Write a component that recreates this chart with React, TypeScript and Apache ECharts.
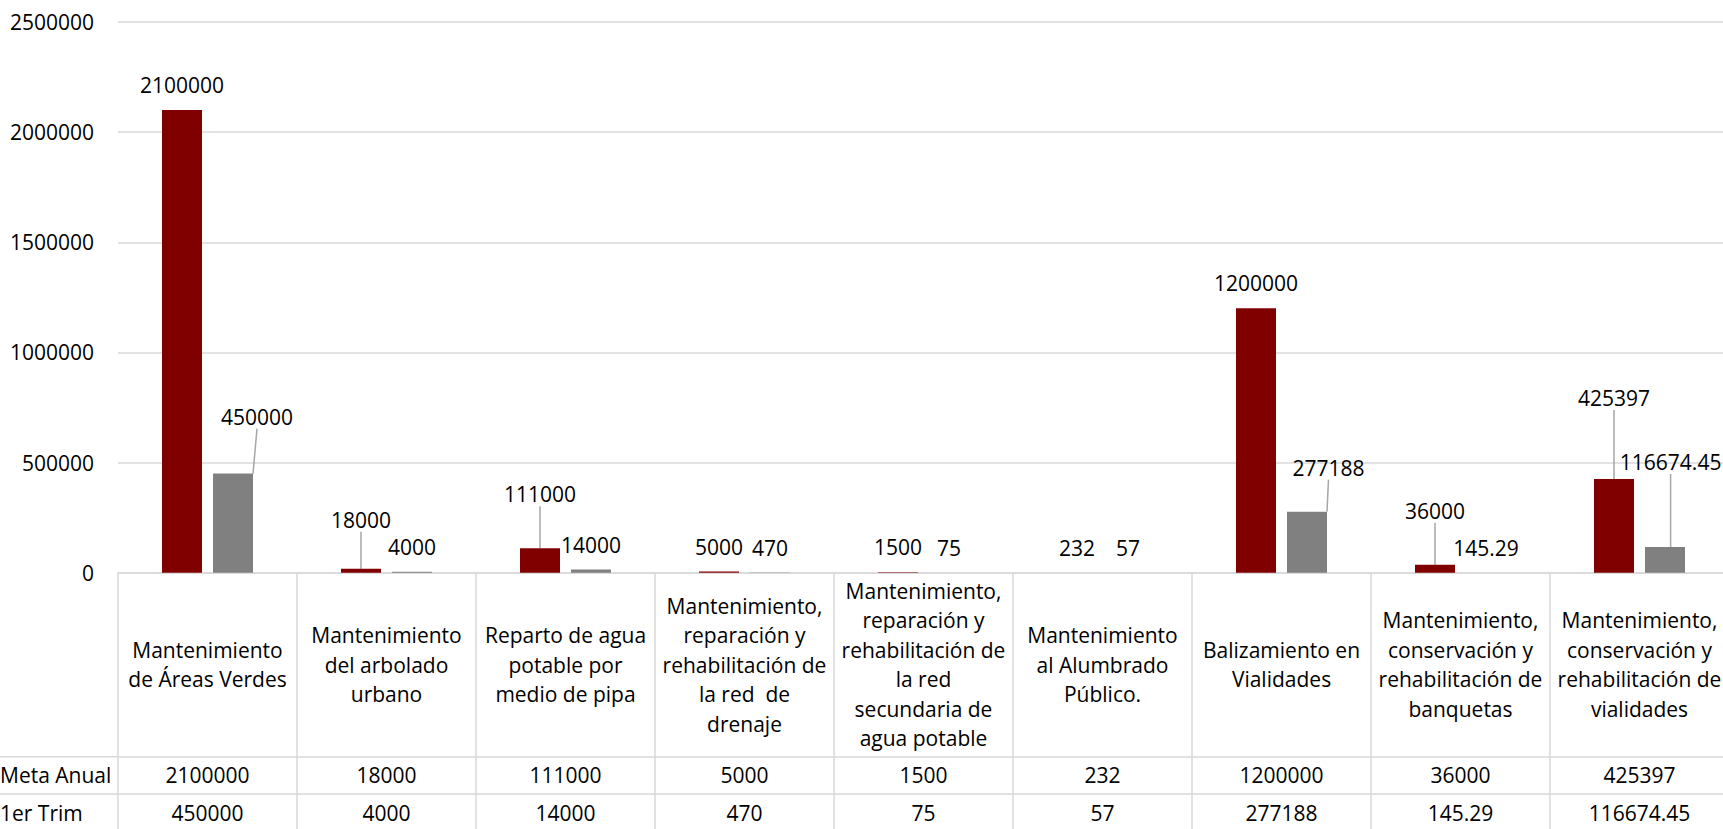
import React, { useEffect, useRef } from 'react';
import * as echarts from 'echarts';

// ---------- data ----------
const categories = [
  'Mantenimiento\nde Áreas Verdes',
  'Mantenimiento\ndel arbolado\nurbano',
  'Reparto de agua\npotable por\nmedio de pipa',
  'Mantenimiento,\nreparación y\nrehabilitación de\nla red  de\ndrenaje',
  'Mantenimiento,\nreparación y\nrehabilitación de\nla red\nsecundaria de\nagua potable',
  'Mantenimiento\nal Alumbrado\nPúblico.',
  'Balizamiento en\nVialidades',
  'Mantenimiento,\nconservación y\nrehabilitación de\nbanquetas',
  'Mantenimiento,\nconservación y\nrehabilitación de\nvialidades',
];
const seriesNames = ['Meta Anual', '1er Trim'];
const metaAnual = [2100000, 18000, 111000, 5000, 1500, 232, 1200000, 36000, 425397];
const primerTrim = [450000, 4000, 14000, 470, 75, 57, 277188, 145.29, 116674.45];
const yTicks = [0, 500000, 1000000, 1500000, 2000000, 2500000];

// ---------- layout / style ----------
const FONT = 'Open Sans';
const FONT_SIZE = 21;
const TEXT = '#000000';
const LINE = '#d9d9d9';
const COLORS = ['#800000', '#808080'];
const GRID_LEFT = 118;
const GRID_TOP = 22;
const PLOT_H = 550.7;
const HEADER_H = 184;
const ROW_H = 37.3;

// moved data labels (series-dataIndex -> [dx, dy])
const LABEL_SHIFTS: Record<string, [number, number]> = {
  '0-1': [0, -24],
  '0-2': [0, -29],
  '0-7': [0, -29],
  '0-8': [0, -56],
  '1-0': [24, -32],
  '1-6': [21.5, -19],
  '1-8': [5.6, -60],
};

export default function App() {
  const ref = useRef<HTMLDivElement>(null);
  useEffect(() => {
    if (!ref.current) return;
    const chart = echarts.init(ref.current, undefined, { renderer: 'svg' });
    const plotBottom = GRID_TOP + PLOT_H;
    const textStyle = { fontFamily: FONT, fontSize: FONT_SIZE, color: TEXT };

    const makeSeries = (name: string, values: number[], si: number) => ({
      type: 'bar',
      name,
      barWidth: 40,
      barGap: '27.5%',
      itemStyle: { color: COLORS[si] },
      data: values.map((v, i) => ({
        value: v,
        labelLine: { show: !!LABEL_SHIFTS[`${si}-${i}`] },
      })),
      label: {
        show: true,
        position: 'top',
        distance: 13,
        lineHeight: 24,
        ...textStyle,
        formatter: (p: any) => String(p.value),
      },
      labelLine: { show: false, lineStyle: { color: '#a6a6a6', width: 1.5 } },
      labelLayout: (params: any) => {
        const s = LABEL_SHIFTS[`${params.seriesIndex}-${params.dataIndex}`];
        return s ? { dx: s[0], dy: s[1] } : {};
      },
    });

    const rowAxis = (values: number[], name: string, offset: number) => ({
      type: 'category',
      data: categories,
      position: 'bottom',
      offset,
      axisLine: { show: true, lineStyle: { color: LINE, width: 1.5 } },
      axisTick: { show: false },
      axisLabel: {
        interval: 0,
        margin: ROW_H / 2,
        verticalAlign: 'middle',
        ...textStyle,
        formatter: (_: string, i: number) => String(values[i]),
      },
      name,
      nameLocation: 'start',
      nameGap: GRID_LEFT,
      nameMoveOverlap: false,
      nameTextStyle: {
        ...textStyle,
        align: 'left',
        verticalAlign: 'top',
        lineHeight: ROW_H,
      },
    });

    chart.setOption({
      animation: false,
      backgroundColor: '#ffffff',
      grid: {
        left: GRID_LEFT,
        top: GRID_TOP,
        width: 179 * 9,
        height: PLOT_H,
        containLabel: false,
        outerBoundsMode: 'none',
      },
      yAxis: {
        type: 'value',
        min: yTicks[0],
        max: yTicks[yTicks.length - 1],
        interval: yTicks[1] - yTicks[0],
        axisLine: { show: false },
        axisTick: { show: false },
        splitLine: { lineStyle: { color: LINE, width: 1.5 } },
        axisLabel: { margin: 24, ...textStyle, formatter: (v: number) => String(v) },
      },
      xAxis: [
        {
          type: 'category',
          data: categories,
          position: 'bottom',
          axisLine: { show: true, lineStyle: { color: LINE, width: 1.5 } },
          axisTick: {
            show: true,
            alignWithLabel: false,
            interval: 0,
            length: 270,
            lineStyle: { color: LINE, width: 1.5 },
          },
          axisLabel: {
            interval: 0,
            margin: HEADER_H / 2,
            verticalAlign: 'middle',
            align: 'center',
            lineHeight: 29.5,
            ...textStyle,
          },
        },
        rowAxis(metaAnual, seriesNames[0], HEADER_H),
        rowAxis(primerTrim, seriesNames[1], HEADER_H + ROW_H),
      ],
      graphic: [
        {
          type: 'line',
          shape: { x1: 0, y1: plotBottom + HEADER_H, x2: GRID_LEFT, y2: plotBottom + HEADER_H },
          style: { stroke: LINE, lineWidth: 1.5 },
          silent: true,
        },
        {
          type: 'line',
          shape: {
            x1: 0,
            y1: plotBottom + HEADER_H + ROW_H,
            x2: GRID_LEFT,
            y2: plotBottom + HEADER_H + ROW_H,
          },
          style: { stroke: LINE, lineWidth: 1.5 },
          silent: true,
        },
      ],
      series: [
        makeSeries(seriesNames[0], metaAnual, 0),
        makeSeries(seriesNames[1], primerTrim, 1),
      ],
    });
    return () => chart.dispose();
  }, []);

  return (
    <div
      ref={ref}
      style={{ position: 'fixed', left: 0, top: 0, width: 1723, height: 829, background: '#fff' }}
    />
  );
}
